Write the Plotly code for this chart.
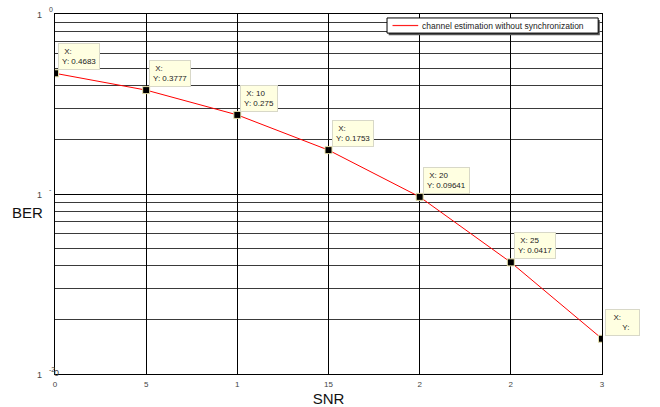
import math
import plotly.graph_objects as go

# BER versus SNR for channel estimation without synchronization
snr = [0, 5, 10, 15, 20, 25, 30]
ber = [0.4683, 0.3777, 0.275, 0.1753, 0.09641, 0.0417, 0.0157]
series_name = "channel estimation without synchronization"

# data-tip texts shown next to each point
tip_x = ["X:", "X:", "X: 10", "X:", "X: 20", "X: 25", "X:"]
tip_y = ["Y: 0.4683", "Y: 0.3777", "Y: 0.275", "Y: 0.1753", "Y: 0.09641", "Y: 0.0417", "Y:"]

x_ticks = [0, 5, 10, 15, 20, 25, 30]
x_ticktext = ["0", "5", "1", "15", "2", "2", "3"]

y_minor = [m * 10.0 ** e for e in (-2, -1) for m in range(2, 10)]

FONT = "Liberation Sans, Arial, sans-serif"

fig = go.Figure()
fig.add_trace(go.Scatter(
    x=snr, y=ber, mode="lines",
    line=dict(color="#ff0000", width=1),
    name=series_name, showlegend=False,
))
fig.add_trace(go.Scatter(
    x=snr, y=ber, mode="markers",
    marker=dict(symbol="square", size=7, color="black",
                line=dict(color="#e6dfa8", width=1)),
    showlegend=False, hoverinfo="skip",
))

annotations = []
for xv, yv, tx, ty in zip(snr, ber, tip_x, tip_y):
    if ty == "Y:":
        txt = "&nbsp;&nbsp;" + tx + "<br>&nbsp;&nbsp;&nbsp;&nbsp;&nbsp;&nbsp;" + ty + "&nbsp;&nbsp;&nbsp;"
    else:
        txt = "&nbsp;" + tx + "<br>" + ty
    annotations.append(dict(
        x=xv, y=math.log10(yv), xref="x", yref="y",
        text=txt, showarrow=False, xanchor="left", yanchor="bottom",
        xshift=3, yshift=3, align="left",
        bgcolor="#ffffe1", bordercolor="#d8d8c8", borderwidth=1, borderpad=3,
        font=dict(family=FONT, size=8, color="#222"),
    ))

# y tick labels in exponent form
for e, sup in ((0, "0"), (-1, "-"), (-2, "-2")):
    annotations.append(dict(
        x=0, y=e, xref="paper", yref="y", text="1", showarrow=False,
        xanchor="right", yanchor="middle", xshift=-11, yshift=-1,
        font=dict(family=FONT, size=9, color="#444"),
    ))
    annotations.append(dict(
        x=0, y=e, xref="paper", yref="y", text=sup, showarrow=False,
        xanchor="left", yanchor="middle", xshift=-8, yshift=5,
        font=dict(family=FONT, size=7, color="#444"),
    ))
annotations.append(dict(
    x=0, y=-2, xref="paper", yref="y", text="0", showarrow=False,
    xanchor="center", yanchor="middle", xshift=1, yshift=1,
    font=dict(family=FONT, size=9, color="#444"),
))

# horizontal y-axis label
annotations.append(dict(
    x=0, y=-1.1, xref="paper", yref="y", text="BER", showarrow=False,
    xanchor="right", yanchor="middle", xshift=-10,
    font=dict(family=FONT, size=15, color="#111"),
))

# legend box drawn in paper coordinates
lg_x0, lg_x1 = 0.607, 0.993
lg_y0, lg_y1 = 0.947, 0.989
lg_mid = (lg_y0 + lg_y1) / 2
shapes = [
    dict(type="rect", xref="paper", yref="paper",
         x0=lg_x0 + 0.003, x1=lg_x1 + 0.003, y0=lg_y0 - 0.006, y1=lg_y1 - 0.006,
         line=dict(width=0), fillcolor="#555", layer="above"),
    dict(type="rect", xref="paper", yref="paper",
         x0=lg_x0, x1=lg_x1, y0=lg_y0, y1=lg_y1,
         line=dict(color="black", width=1), fillcolor="white", layer="above"),
    dict(type="line", xref="paper", yref="paper",
         x0=lg_x0 + 0.010, x1=lg_x0 + 0.057, y0=lg_mid, y1=lg_mid,
         line=dict(color="#ff2020", width=1.2), layer="above"),
]
annotations.append(dict(
    x=lg_x0 + 0.060, y=lg_mid, xref="paper", yref="paper",
    text=series_name, showarrow=False, xanchor="left", yanchor="middle",
    font=dict(family=FONT, size=8.5, color="#222"),
))

fig.update_layout(
    width=660, height=407,
    margin=dict(l=55, r=58, t=14, b=33),
    paper_bgcolor="white", plot_bgcolor="white",
    font=dict(family=FONT, color="#222"),
    annotations=annotations, shapes=shapes,
    showlegend=False,
)

fig.update_xaxes(
    range=[0, 30], tickvals=x_ticks, ticktext=x_ticktext, automargin=False,
    showline=True, linecolor="black", linewidth=1, mirror=True,
    showgrid=True, gridcolor="black", gridwidth=1, zeroline=False,
    ticks="", ticklabelstandoff=2, tickfont=dict(family=FONT, size=8, color="#444"),
    title=dict(text="SNR", font=dict(family=FONT, size=15, color="#111"), standoff=6),
)
fig.update_yaxes(
    type="log", range=[-2, 0], tickvals=[0.01, 0.1, 1], showticklabels=False,
    automargin=False,
    showline=True, linecolor="black", linewidth=1, mirror=True,
    showgrid=True, gridcolor="black", gridwidth=1, zeroline=False, ticks="",
    minor=dict(tickvals=y_minor, showgrid=True, gridcolor="#3a3a3a", gridwidth=1, ticks=""),
)

fig.write_html("out.html")
